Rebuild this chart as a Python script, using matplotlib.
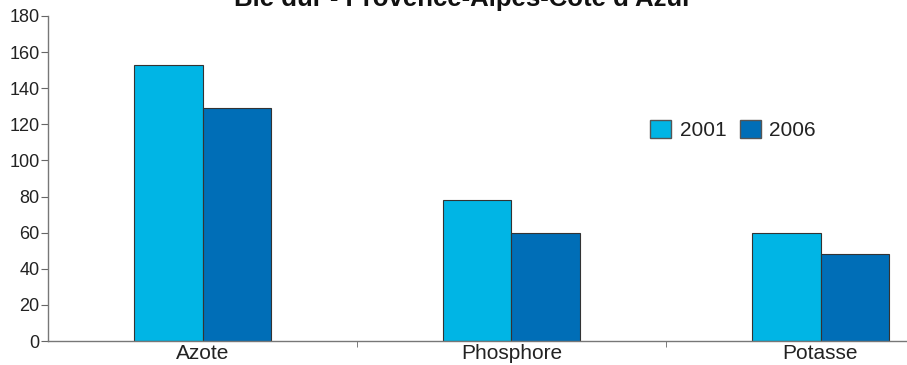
import matplotlib.pyplot as plt
from matplotlib.patches import Patch
import numpy as np

plt.rcParams['font.family'] = ['Liberation Sans', 'DejaVu Sans']

categories = ["Azote", "Phosphore", "Potasse"]
years = ["2001", "2006"]
v2001 = [153, 78, 60]
v2006 = [129, 60, 48]
colors = ["#00B5E5", "#006EB7"]

fig = plt.figure(figsize=(9.07, 3.65), dpi=100)
ax = fig.add_axes([48 / 907, 24 / 365, 927 / 907, 325 / 365])

x = np.arange(len(categories))
w = 0.223
ax.bar(x - w / 2, v2001, w, color=colors[0], edgecolor="#333333", linewidth=0.8)
ax.bar(x + w / 2, v2006, w, color=colors[1], edgecolor="#333333", linewidth=0.8)

ax.set_xlim(-0.5, 2.5)
ax.set_ylim(0, 180)
ax.set_yticks(np.arange(0, 181, 20))
ax.set_xticks(x)
ax.set_xticklabels(categories, fontsize=15, color="#222222")
ax.set_xticks([0.5, 1.5], minor=True)
ax.tick_params(axis="x", which="major", length=0, pad=2)
ax.tick_params(axis="x", which="minor", length=4, color="#666666")
ax.tick_params(axis="y", length=5, color="#666666", labelsize=13, labelcolor="#222222", pad=1)

for s in ["top", "right"]:
    ax.spines[s].set_visible(False)
for s in ["left", "bottom"]:
    ax.spines[s].set_color("#777777")
    ax.spines[s].set_linewidth(1.0)

handles = [Patch(facecolor=c, edgecolor="#555555", label=y) for c, y in zip(colors, years)]
fig.legend(handles=handles, loc="center left", bbox_to_anchor=(640 / 907, 1 - 130 / 365),
           ncol=2, frameon=False, fontsize=15, handlelength=1.0, handleheight=1.0,
           handletextpad=0.4, columnspacing=0.65, borderpad=0, labelcolor="#222222")

fig.text(463 / 907, 1 - 6 / 365, "Blé dur - Provence-Alpes-Côte d'Azur", ha="center",
         va="baseline", fontsize=18.5, fontweight="bold", color="#111111")

fig.savefig("out.png", dpi=100)
